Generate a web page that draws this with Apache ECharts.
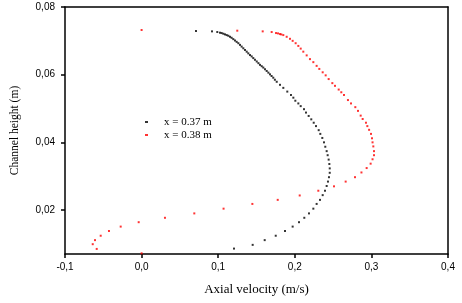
<!DOCTYPE html>
<html>
<head>
<meta charset="utf-8">
<script src="https://cdn.jsdelivr.net/npm/echarts@6/dist/echarts.min.js"></script>
<style>html,body{margin:0;padding:0;background:#fff}#c{width:462px;height:303px}</style>
</head>
<body>
<div id="c"></div>
<script>
var seriesNames = ['x = 0.37 m', 'x = 0.38 m'];
var xTicks = [-0.1, 0.0, 0.1, 0.2, 0.3, 0.4];
var yTicks = [0.02, 0.04, 0.06, 0.08];

var blackX = [0.1206,0.1450,0.1607,0.1751,0.1872,0.1972,0.2055,0.2124,0.2185,0.2242,0.2285,0.2329,0.2364,0.2394,0.2416,0.2433,0.2446,0.2456,0.2456,0.2451,0.2442,0.2429,0.2416,0.2398,0.2381,0.2359,0.2333,0.2312,0.2277,0.2247,0.2215,0.2181,0.2146,0.2120,0.2077,0.2046,0.2007,0.1981,0.1950,0.1902,0.1850,0.1807,0.1764,0.1740,0.1719,0.1697,0.1676,0.1655,0.1633,0.1611,0.1589,0.1568,0.1546,0.1525,0.1503,0.1480,0.1458,0.1437,0.1415,0.1393,0.1372,0.1350,0.1328,0.1306,0.1285,0.1263,0.1241,0.1219,0.1197,0.1175,0.1154,0.1132,0.1111,0.1089,0.1067,0.1045,0.1023,0.0988,0.0919,0.0710];
var blackY = [0.0086,0.0097,0.0111,0.0124,0.0138,0.0151,0.0164,0.0177,0.0190,0.0204,0.0218,0.0230,0.0244,0.0257,0.0271,0.0284,0.0297,0.0310,0.0323,0.0336,0.0349,0.0362,0.0374,0.0387,0.0400,0.0413,0.0425,0.0436,0.0448,0.0458,0.0468,0.0478,0.0488,0.0498,0.0507,0.0515,0.0523,0.0532,0.0540,0.0550,0.0561,0.0570,0.0579,0.0585,0.0591,0.0596,0.0601,0.0606,0.0611,0.0616,0.0621,0.0625,0.0629,0.0634,0.0639,0.0644,0.0649,0.0654,0.0658,0.0663,0.0668,0.0673,0.0678,0.0683,0.0688,0.0693,0.0697,0.0701,0.0705,0.0709,0.0712,0.0715,0.0717,0.0719,0.0721,0.0723,0.0724,0.0726,0.0728,0.0729];

var redX = [0.0000,-0.0586,-0.0638,-0.0608,-0.0534,-0.0426,-0.0273,-0.0038,0.0305,0.0688,0.1070,0.1446,0.1777,0.2064,0.2307,0.2512,0.2664,0.2786,0.2870,0.2938,0.2990,0.3015,0.3034,0.3034,0.3025,0.3015,0.3008,0.2995,0.2970,0.2947,0.2929,0.2886,0.2860,0.2825,0.2790,0.2734,0.2694,0.2642,0.2607,0.2573,0.2525,0.2490,0.2442,0.2403,0.2364,0.2320,0.2285,0.2242,0.2198,0.2155,0.2111,0.2077,0.2046,0.2011,0.1972,0.1937,0.1894,0.1850,0.1824,0.1807,0.1781,0.1755,0.1698,0.1581,0.1249,0.0000];
var redY = [0.0072,0.0085,0.0099,0.0111,0.0124,0.0138,0.0151,0.0164,0.0177,0.0190,0.0204,0.0218,0.0230,0.0243,0.0257,0.0270,0.0284,0.0297,0.0311,0.0324,0.0337,0.0350,0.0362,0.0374,0.0388,0.0400,0.0412,0.0425,0.0437,0.0448,0.0458,0.0469,0.0479,0.0493,0.0504,0.0515,0.0525,0.0540,0.0548,0.0556,0.0567,0.0575,0.0587,0.0598,0.0607,0.0617,0.0626,0.0637,0.0646,0.0657,0.0668,0.0677,0.0685,0.0693,0.0700,0.0706,0.0712,0.0717,0.0719,0.0720,0.0722,0.0723,0.0726,0.0728,0.0730,0.0732];

function pairs(xs, ys) { return xs.map(function (x, i) { return [x, ys[i]]; }); }

var frameLine = { show: true, onZero: false, lineStyle: { color: '#000', width: 1.5 } };
var chart = echarts.init(document.getElementById('c'), null, { renderer: 'canvas' });
chart.setOption({
  animation: false,
  backgroundColor: '#fff',
  grid: { left: 65, right: 14, top: 7, bottom: 49, show: false, containLabel: false, outerBoundsMode: 'none' },
  legend: {
    orient: 'vertical', left: 140, top: 111, itemGap: 1,
    itemWidth: 3, itemHeight: 2, icon: 'rect',
    data: seriesNames,
    textStyle: { fontFamily: 'Liberation Serif', fontSize: 11, color: '#000', lineHeight: 12, padding: [0, 0, 0, 11] }
  },
  xAxis: [{
    type: 'value', min: -0.1, max: 0.4, interval: 0.1,
    name: 'Axial velocity (m/s)', nameLocation: 'middle', nameGap: 29,
    nameTextStyle: { fontFamily: 'Liberation Serif', fontSize: 13, color: '#000' },
    axisLine: frameLine,
    axisTick: { show: true, inside: false, length: 4, lineStyle: { color: '#000', width: 1.5 }, customValues: xTicks },
    axisLabel: { fontFamily: 'Liberation Sans', fontSize: 10, color: '#000', margin: 8, customValues: xTicks,
      formatter: function (v) { return v.toFixed(1).replace('.', ','); } },
    splitLine: { show: false }
  }, {
    type: 'value', position: 'top', min: -0.1, max: 0.4, interval: 0.1,
    axisLine: frameLine, axisTick: { show: false }, axisLabel: { show: false }, splitLine: { show: false }
  }],
  yAxis: [{
    type: 'value', min: 0.007, max: 0.08,
    name: 'Channel height (m)', nameLocation: 'middle', nameGap: 44,
    nameTextStyle: { fontFamily: 'Liberation Serif', fontSize: 11.5, color: '#000' },
    axisLine: frameLine,
    axisTick: { show: true, inside: false, length: 4, lineStyle: { color: '#000', width: 1.5 }, customValues: yTicks },
    axisLabel: { fontFamily: 'Liberation Sans', fontSize: 10, color: '#000', margin: 10, customValues: yTicks,
      formatter: function (v) { return v.toFixed(2).replace('.', ','); } },
    splitLine: { show: false }
  }, {
    type: 'value', position: 'right', min: 0.007, max: 0.08,
    axisLine: frameLine, axisTick: { show: false }, axisLabel: { show: false }, splitLine: { show: false }
  }],
  series: [
    { name: seriesNames[0], type: 'scatter', symbol: 'rect', symbolSize: 2, itemStyle: { color: '#000' }, data: pairs(blackX, blackY) },
    { name: seriesNames[1], type: 'scatter', symbol: 'rect', symbolSize: 2, itemStyle: { color: '#ff0000' }, data: pairs(redX, redY) }
  ]
});
</script>
</body>
</html>
